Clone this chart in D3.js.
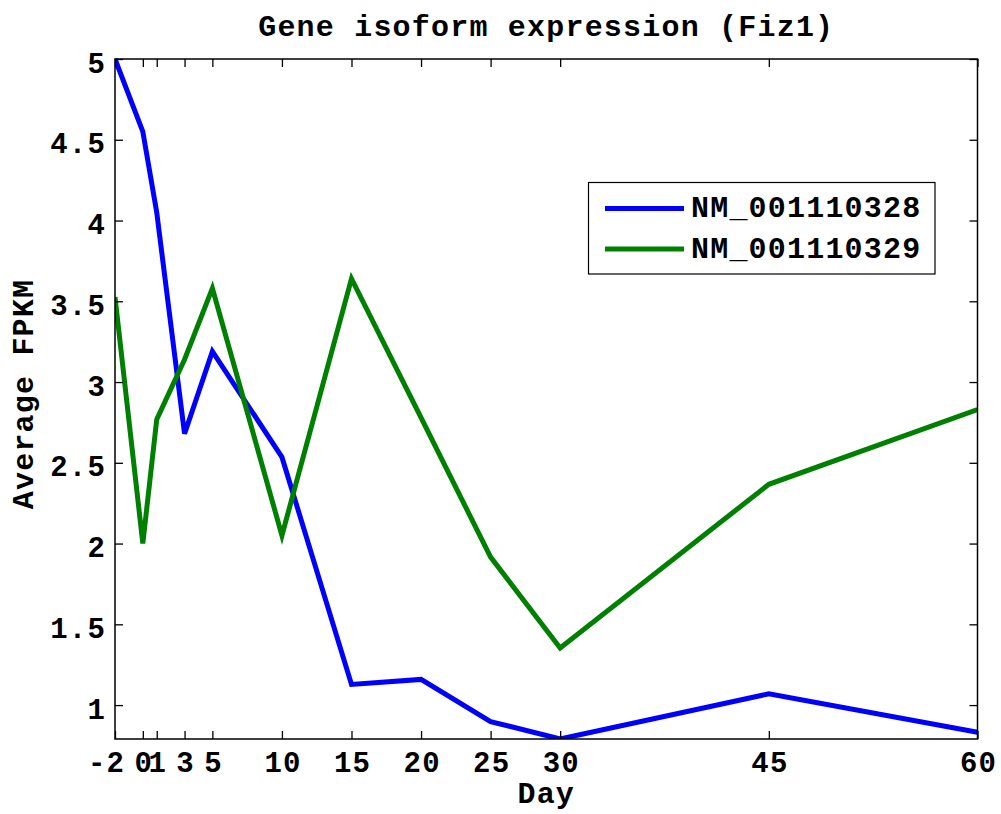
<!DOCTYPE html>
<html>
<head>
<meta charset="utf-8">
<script src="https://cdn.jsdelivr.net/npm/d3@7"></script>
<style>
  html, body { margin: 0; padding: 0; background: #fff; }
  svg { display: block; }
  text { font-family: "Liberation Mono", "Courier New", monospace; font-weight: bold; fill: #000; letter-spacing: 1.2px; }
</style>
</head>
<body>
<svg id="chart" width="1001" height="814"></svg>
<script>
// ---- data ----
const days = [-2, 0, 1, 3, 5, 10, 15, 20, 25, 30, 45, 60];
const seriesNames = ["NM_001110328", "NM_001110329"];
const nm001110328 = [5.0, 4.55, 4.05, 2.68, 3.19, 2.535, 1.128, 1.159, 0.898, 0.79, 1.07, 0.832];
const nm001110329 = [3.527, 2.0, 2.768, 3.14, 3.58, 2.05, 3.64, 2.78, 1.916, 1.353, 2.367, 2.83];
const xTickValues = [-2, 0, 1, 3, 5, 10, 15, 20, 25, 30, 45, 60];
const yTickValues = [1, 1.5, 2, 2.5, 3, 3.5, 4, 4.5, 5];
const seriesColors = ["#0000ff", "#008000"];
const titleText = "Gene isoform expression (Fiz1)";
const xLabel = "Day";
const yLabel = "Average FPKM";

// ---- layout ----
const L = 115, R = 977.5, T = 59, B = 739;
const svg = d3.select("#chart");

const allVals = nm001110328.concat(nm001110329);
const x = d3.scaleLinear().domain([d3.min(days), d3.max(days)]).range([L, R]);
const y = d3.scaleLinear().domain(d3.extent(allVals)).range([B, T]);

const series = [nm001110328, nm001110329];

// clip
svg.append("defs").append("clipPath").attr("id", "clip")
  .append("rect").attr("x", L).attr("y", T - 3).attr("width", R - L).attr("height", B - T + 3);

// lines
const line = d3.line().x((d, i) => x(days[i])).y(d => y(d));
series.forEach((s, k) => {
  svg.append("path")
    .datum(s)
    .attr("clip-path", "url(#clip)")
    .attr("fill", "none")
    .attr("stroke", seriesColors[k])
    .attr("stroke-width", 5)
    .attr("stroke-linejoin", "miter")
    .attr("d", line);
});

// axes (box + inward ticks)
const tickLen = 8;
const fmtY = d3.format("");
const gX = svg.append("g").attr("transform", `translate(0,${B})`)
  .call(d3.axisBottom(x).tickValues(xTickValues).tickSize(-tickLen).tickPadding(9).tickFormat(d => String(d)));
const gXt = svg.append("g").attr("transform", `translate(0,${T})`)
  .call(d3.axisTop(x).tickValues(xTickValues).tickSize(-tickLen).tickFormat(""));
const gY = svg.append("g").attr("transform", `translate(${L},0)`)
  .call(d3.axisLeft(y).tickValues(yTickValues).tickSize(-tickLen).tickPadding(10).tickFormat(fmtY));
const gYr = svg.append("g").attr("transform", `translate(${R},0)`)
  .call(d3.axisRight(y).tickValues(yTickValues).tickSize(-tickLen).tickFormat(""));

[gX, gXt, gY, gYr].forEach(g => {
  g.select(".domain").remove();
  g.selectAll(".tick line").attr("stroke", "#000").attr("stroke-width", 1.3);
  g.selectAll("text").style("font-size", "29px").style("font-family", "Liberation Mono").style("font-weight", "bold").attr("fill", "#000");
});
gX.selectAll(".tick text").attr("dy", "0").attr("y", 33)
  .attr("dx", d => d < 0 ? -9 : 0.6);
gY.selectAll(".tick text").attr("dy", "0").attr("y", 0).attr("x", -9)
  .attr("transform", "translate(0,13)");

// frame
svg.append("rect").attr("x", L).attr("y", T).attr("width", R - L).attr("height", B - T)
  .attr("fill", "none").attr("stroke", "#000").attr("stroke-width", 1.5);

// title and labels
svg.append("text").attr("x", (L + R) / 2).attr("y", 36).attr("text-anchor", "middle")
  .style("font-size", "30px").text(titleText);
svg.append("text").attr("x", (L + R) / 2).attr("y", 803).attr("text-anchor", "middle")
  .style("font-size", "30px").text(xLabel);
svg.append("text").attr("transform", "translate(33,394) rotate(-90)").attr("text-anchor", "middle")
  .style("font-size", "30px").text(yLabel);

// legend
const lg = svg.append("g");
lg.append("rect").attr("x", 588.5).attr("y", 182.5).attr("width", 346.5).attr("height", 91.5)
  .attr("fill", "#fff").attr("stroke", "#000").attr("stroke-width", 1.2);
seriesNames.forEach((name, k) => {
  const ly = 208.5 + k * 40.5;
  lg.append("line").attr("x1", 605).attr("x2", 684).attr("y1", ly).attr("y2", ly)
    .attr("stroke", seriesColors[k]).attr("stroke-width", 5);
  lg.append("text").attr("x", 691).attr("y", ly + 8.5).style("font-size", "30px").text(name);
});
</script>
</body>
</html>
